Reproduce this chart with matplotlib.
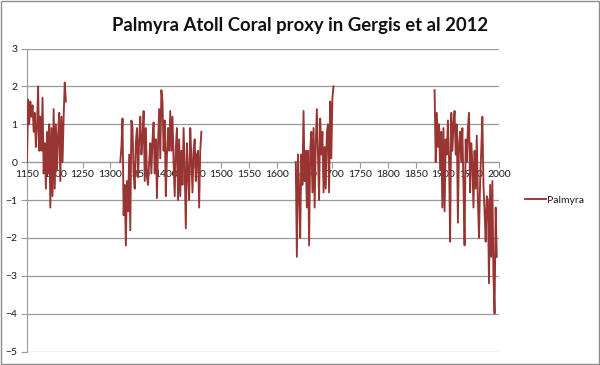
import numpy as np
import matplotlib
matplotlib.use("Agg")
import matplotlib.pyplot as plt
from matplotlib.patches import Rectangle

# Palmyra coral proxy (2-year spacing per segment)
seg1_start = 1150
seg1_vals = [0.0, 1.65, 1.0, 1.6, 1.2, 1.5, 0.8, 1.3, 0.4, 0.9, 2.0, 0.3,
             1.2, 0.3, 1.7, -0.3, 0.5, -0.7, 0.8, -0.3, 1.0, -1.2, 0.9, -0.9,
             1.4, -0.7, 1.0, -0.2, 0.7, 1.3, -0.5, 1.2, 0.0, 1.2, 2.1, 1.6]

seg2_start = 1318
seg2_vals = [0.0, 0.4, 1.15, -1.4, -0.6, -2.2, -0.5, -1.3, 0.2, -1.8, 1.1, 0.9,
             -0.3, -0.7, 0.5, 0.9, -0.4, 0.6, 1.2, 0.2, 0.6, 1.35, -0.5, 0.9,
             -0.4, -0.6, 0.0, 0.5, -0.3, 0.6, 1.05, -0.3, 0.6, -0.95, 0.5, 1.4,
             0.1, 1.9, 1.6, 0.3, 1.1, -0.9, 0.2, 0.9, 0.3, 1.35, 0.3, 1.2,
             0.0, -0.9, 0.4, 0.9, -1.0, 0.6, -0.9, 0.3, -0.6, 0.9, -0.2, -1.75,
             0.5, -0.3, -1.0, 0.9, 0.1, -0.8, 0.3, 0.6, -0.5, 0.2, 0.3, -1.2,
             0.3, 0.8]

seg3_start = 1634
seg3_vals = [0.0, -2.5, 0.2, -0.7, -2.0, 0.2, -0.6, 1.35, -0.5, 0.3, -1.2, 0.3,
             -2.2, 0.3, 0.8, -0.8, 0.9, -1.2, 0.5, 1.4, 0.2, -1.0, 1.15, 0.2,
             0.8, -0.8, 0.4, -0.7, 0.8, 1.0, -0.8, 1.6, 0.1, 1.7, 2.0]

seg4_start = 1884
seg4_vals = [1.9, 0.0, 1.3, 0.4, 1.0, -0.2, 0.8, -1.2, 0.9, -1.3, 0.6, 0.2,
             1.1, 0.1, -2.1, 1.3, 0.3, 1.0, 1.35, 0.2, 1.0, -1.6, 0.5, 0.8,
             0.0, 0.9, -0.6, -2.2, 0.6, 0.0, 0.9, 1.3, -0.8, 0.5, 0.0, -1.2,
             0.3, -0.7, 0.7, -1.0, -2.0, -0.5, 0.3, 1.2, -0.6, -1.3, -2.1, -0.9,
             -1.0, -3.2, -0.6, -2.5, -0.5, -3.0, -4.0, -1.2, -2.5]

segments = [(seg1_start, seg1_vals), (seg2_start, seg2_vals),
            (seg3_start, seg3_vals), (seg4_start, seg4_vals)]

x_ticks = list(range(1150, 2001, 50))
y_ticks = list(range(-5, 4))

line_color = "#983532"
grid_color = "#9a9a9a"
text_color = "#1a1a1a"

plt.rcParams["font.family"] = ["Lato", "DejaVu Sans"]

fig = plt.figure(figsize=(6.0, 3.65), dpi=100)
fig.patches.append(Rectangle((0.001, 0.002), 0.997, 0.996, transform=fig.transFigure,
                             fill=False, edgecolor="#8c8c8c", linewidth=1.0))
ax = fig.add_axes([27 / 600, 1 - 351.5 / 365, (499 - 27) / 600, (351.5 - 48.5) / 365])

for i, (start, vals) in enumerate(segments):
    yrs = start + 2 * np.arange(len(vals))
    ax.plot(yrs, vals, color=line_color, linewidth=1.35,
            label="Palmyra" if i == 0 else None, zorder=3)

ax.set_xlim(1150, 2000)
ax.set_ylim(-5, 3)
ax.set_xticks(x_ticks)
ax.set_yticks(y_ticks)
ax.grid(axis="y", color=grid_color, linewidth=0.9)
ax.set_axisbelow(True)

ax.spines["top"].set_visible(False)
ax.spines["right"].set_visible(False)
ax.spines["left"].set_color(grid_color)
ax.spines["bottom"].set_color(grid_color)
ax.spines["bottom"].set_position(("data", 0))

ax.tick_params(axis="x", direction="out", length=4, color=grid_color, pad=2,
               labelsize=7.5, labelcolor=text_color)
ax.tick_params(axis="y", direction="out", length=4, color=grid_color, pad=3,
               labelsize=7.5, labelcolor=text_color)

fig.text(0.5, 1 - 26 / 365, "Palmyra Atoll Coral proxy in Gergis et al 2012",
         ha="center", va="center", fontsize=13.3, fontweight="bold", color="#111111")

ax.legend(loc="center left", bbox_to_anchor=(1.035, 0.5), frameon=False,
          fontsize=7.5, handlelength=2.0, handletextpad=0.15, labelcolor=text_color)

fig.savefig("out.png", dpi=100)
